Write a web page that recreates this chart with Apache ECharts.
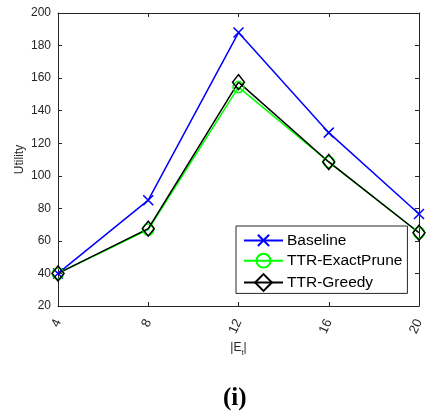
<!DOCTYPE html>
<html><head><meta charset="utf-8">
<script src="https://cdn.jsdelivr.net/npm/echarts@6/dist/echarts.min.js"></script>
<style>html,body{margin:0;padding:0;background:#fff}#c{width:441px;height:413px}</style>
</head><body><div id="c"></div>
<script>
const xValues = [4, 8, 12, 16, 20];
const baseline = [40, 85, 188, 126.5, 76.5];
const exactPrune = [40, 67, 154.5, 108.5, 65];
const greedy = [40, 67.5, 157.5, 108.5, 65];
const seriesNames = ['Baseline', 'TTR-ExactPrune', 'TTR-Greedy'];

const pair = arr => xValues.map((x, i) => [x, arr[i]]);
const axisCol = '#262626';
const font = '"Liberation Sans", Arial, sans-serif';
// marker shapes padded with move-to points so the legend icons come out smaller
const xPath = 'path://M-2.5,-2.5M12.5,12.5M0,0L10,10M10,0L0,10';
const oPath = 'path://M-1.5,-1.5M15.5,15.5M0,7A7,7 0 1,1 14,7A7,7 0 1,1 0,7Z';

const chart = echarts.init(document.getElementById('c'));
chart.setOption({
  animation: false,
  backgroundColor: '#fff',
  title: {
    text: '(i)', left: 223, top: 386, padding: 0,
    textStyle: {fontFamily: '"Liberation Serif", "Times New Roman", serif', fontWeight: 'bold', fontSize: 25, color: '#000'}
  },
  grid: {left: 58, right: 22, top: 13, bottom: 107},
  legend: {
    orient: 'vertical', left: 236, top: 226,
    padding: [5, 5, 0, 7], itemGap: 0, itemWidth: 39, itemHeight: 21,
    borderColor: '#262626', borderWidth: 1, backgroundColor: '#fff',
    textStyle: {fontFamily: font, fontSize: 15.5, color: '#000', padding: [0, 0, 0, -1]},
    data: seriesNames
  },
  xAxis: [{
    type: 'value', min: 4, max: 20, interval: 4,
    name: '|E{sub|t}|', nameLocation: 'middle', nameGap: 33, nameMoveOverlap: false,
    nameTextStyle: {fontFamily: font, fontSize: 12, color: '#262626',
      rich: {sub: {fontFamily: font, fontSize: 8, verticalAlign: 'bottom', padding: [10, 0, 0, 0], color: '#262626'}}},
    axisLine: {show: true, lineStyle: {color: axisCol, width: 1}},
    axisTick: {show: true, inside: true, length: 4, lineStyle: {color: axisCol}},
    axisLabel: {rotate: 65, fontFamily: font, fontSize: 13, color: '#262626', margin: 14},
    splitLine: {show: false}
  }, {
    type: 'value', position: 'top', min: 4, max: 20, interval: 4,
    axisLine: {show: true, onZero: false, lineStyle: {color: axisCol, width: 1}},
    axisTick: {show: true, inside: true, length: 4, lineStyle: {color: axisCol}},
    axisLabel: {show: false}, splitLine: {show: false}
  }],
  yAxis: [{
    type: 'value', min: 20, max: 200, interval: 20,
    name: 'Utility', nameLocation: 'middle', nameGap: 32, nameRotate: 90, nameMoveOverlap: false,
    nameTextStyle: {fontFamily: font, fontSize: 12, color: '#262626'},
    axisLine: {show: true, onZero: false, lineStyle: {color: axisCol, width: 1}},
    axisTick: {show: true, inside: true, length: 4, lineStyle: {color: axisCol}},
    axisLabel: {fontFamily: font, fontSize: 12, color: '#262626', margin: 7},
    splitLine: {show: false}
  }, {
    type: 'value', position: 'right', min: 20, max: 200, interval: 20,
    axisLine: {show: true, onZero: false, lineStyle: {color: axisCol, width: 1}},
    axisTick: {show: true, inside: true, length: 4, lineStyle: {color: axisCol}},
    axisLabel: {show: false}, splitLine: {show: false}
  }],
  series: [{
    name: seriesNames[0], type: 'line', data: pair(baseline),
    symbol: xPath, symbolSize: 15,
    lineStyle: {color: '#0000ff', width: 1.5},
    itemStyle: {color: '#0000ff', borderColor: '#0000ff', borderWidth: 1.5}
  }, {
    name: seriesNames[1], type: 'line', data: pair(exactPrune),
    symbol: oPath, symbolSize: 13.4,
    lineStyle: {color: '#00ff00', width: 1.5},
    itemStyle: {color: 'none', borderColor: '#00ff00', borderWidth: 1.5}
  }, {
    name: seriesNames[2], type: 'line', data: pair(greedy),
    symbol: 'diamond', symbolSize: [12, 15],
    lineStyle: {color: '#000000', width: 1.5},
    itemStyle: {color: 'none', borderColor: '#000000', borderWidth: 1.5}
  }]
});
</script></body></html>
